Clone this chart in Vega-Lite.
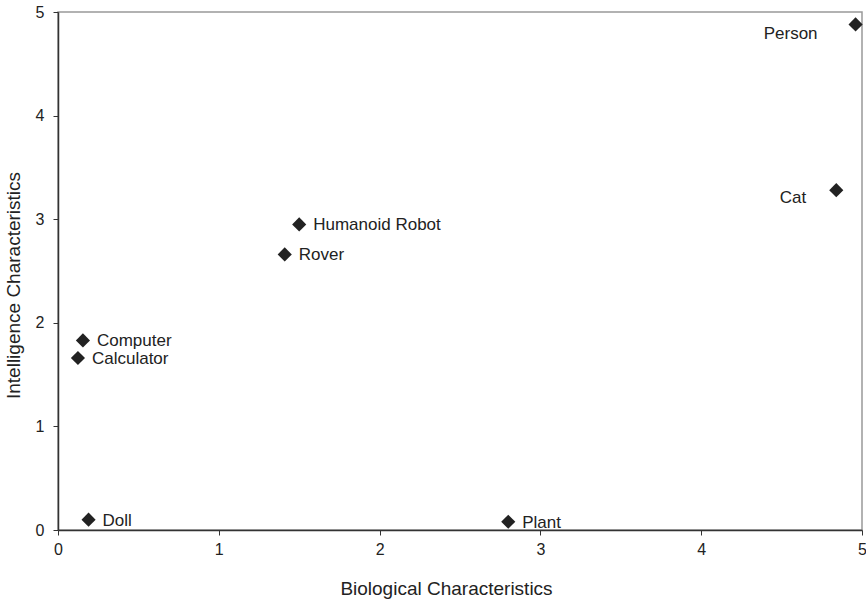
{
  "$schema": "https://vega.github.io/schema/vega-lite/v6.json",
  "width": 804,
  "height": 518,
  "autosize": "none",
  "padding": {"left": 58, "top": 12, "right": 4, "bottom": 72},
  "background": "white",
  "config": {
    "view": {"stroke": "#999999", "strokeWidth": 1.5},
    "font": "Liberation Sans"
  },
  "data": {
    "values": [
      {"name": "Person", "bio": 4.96, "intel": 4.88, "side": "left"},
      {"name": "Cat", "bio": 4.84, "intel": 3.28, "side": "left"},
      {"name": "Humanoid Robot", "bio": 1.50, "intel": 2.95, "side": "right"},
      {"name": "Rover", "bio": 1.41, "intel": 2.66, "side": "right"},
      {"name": "Computer", "bio": 0.155, "intel": 1.83, "side": "right"},
      {"name": "Calculator", "bio": 0.124, "intel": 1.66, "side": "right"},
      {"name": "Doll", "bio": 0.19, "intel": 0.10, "side": "right"},
      {"name": "Plant", "bio": 2.80, "intel": 0.08, "side": "right"}
    ]
  },
  "encoding": {
    "x": {
      "field": "bio", "type": "quantitative",
      "scale": {"domain": [0, 5], "nice": false, "zero": true},
      "axis": {
        "title": "Biological Characteristics", "values": [0,1,2,3,4,5], "labelOverlap": false, "labelFlush": false,
        "grid": false, "domainColor": "#333333", "domainWidth": 1.5, "tickColor": "#333333",
        "tickSize": 5, "labelFontSize": 16, "labelColor": "#222222", "labelPadding": 6,
        "titleFontSize": 19, "titleFontWeight": "normal", "titleColor": "#222222", "titlePadding": 22,
        "titleX": 388
      }
    },
    "y": {
      "field": "intel", "type": "quantitative",
      "scale": {"domain": [0, 5], "nice": false},
      "axis": {
        "title": "Intelligence Characteristics", "values": [0,1,2,3,4,5], "labelOverlap": false, "labelFlush": false,
        "grid": false, "domainColor": "#333333", "domainWidth": 1.5, "tickColor": "#333333",
        "tickSize": 5, "labelFontSize": 16, "labelColor": "#222222", "labelPadding": 9,
        "titleFontSize": 19, "titleFontWeight": "normal", "titleColor": "#222222", "titlePadding": 12,
        "titleY": 273
      }
    }
  },
  "layer": [
    {
      "mark": {"type": "point", "shape": "diamond", "filled": true, "size": 200, "color": "#222222", "opacity": 1}
    },
    {
      "transform": [{"filter": "datum.side == 'right'"}],
      "mark": {"type": "text", "align": "left", "baseline": "middle", "dx": 14, "dy": 1, "fontSize": 17, "color": "#222222"},
      "encoding": {"text": {"field": "name"}}
    },
    {
      "transform": [{"filter": "datum.name == 'Person'"}],
      "mark": {"type": "text", "align": "right", "baseline": "middle", "dx": -38, "dy": 10, "fontSize": 17, "color": "#222222"},
      "encoding": {"text": {"field": "name"}}
    },
    {
      "transform": [{"filter": "datum.name == 'Cat'"}],
      "mark": {"type": "text", "align": "right", "baseline": "middle", "dx": -30, "dy": 8, "fontSize": 17, "color": "#222222"},
      "encoding": {"text": {"field": "name"}}
    }
  ]
}
